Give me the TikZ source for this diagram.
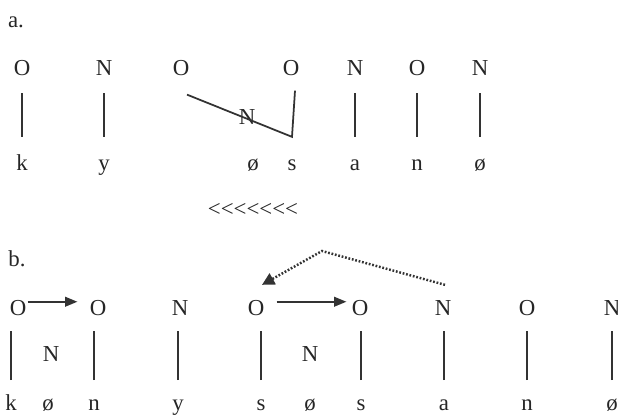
\documentclass[tikz,border=0pt]{standalone}
\usepackage{fontspec}
\setmainfont{Liberation Serif}
\usetikzlibrary{arrows.meta}

\begin{document}
\begin{tikzpicture}[x=0.02cm, y=-0.02cm,
    seg/.style={font=\fontsize{13}{15}\selectfont, text=black!85, inner sep=0pt,
      text height=9pt, text depth=3pt, anchor=base},
    assoc/.style={draw=black!80, line width=1pt},
    stemA/.style={assoc, shorten <=9.8pt, shorten >=7.2pt},
    stemB/.style={assoc, shorten <=7.8pt, shorten >=6.1pt},
    move/.style={assoc, -{Triangle[length=7pt, width=5.5pt]}},
  ]
  \useasboundingbox (0,0) rectangle (618,414);

  % (a) skeleton before the shift
  \node[seg] (la) at (16,27) {a.};
  \node[seg] (a1) at (22,75) {O};
  \node[seg] (a2) at (104,75) {N};
  \node[seg] (a3) at (181,75) {O};
  \node[seg] (a4) at (291,75) {O};
  \node[seg] (a5) at (355,75) {N};
  \node[seg] (a6) at (417,75) {O};
  \node[seg] (a7) at (480,75) {N};
  \node[seg] (x1) at (22,170) {k};
  \node[seg] (x2) at (104,170) {y};
  \node[seg] (x3) at (253,170) {ø};
  \node[seg] (x4) at (292,170) {s};
  \node[seg] (x5) at (355,170) {a};
  \node[seg] (x6) at (417,170) {n};
  \node[seg] (x7) at (480,170) {ø};
  \node[seg] (na) at (247,124) {N};
  \foreach \i in {1,2,5,6,7}
    \draw[stemA] (x\i.north) -- (x\i.north |- a\i.south);
  \draw[assoc] ([shift={(6,14)}]a3.south) -- ([shift={(0,-17)}]x4.north)
    -- ([shift={(4,10)}]a4.south);

  % kern between the signs, or they fuse into guillemets
  \node[seg, anchor=center] (dir) at (253,211)
    {<\kern0pt<\kern0pt<\kern0pt<\kern0pt<\kern0pt<\kern0pt<};

  % (b) skeleton after the shift
  \node[seg] (lb) at (17,266) {b.};
  \node[seg] (b1) at (18,315) {O};
  \node[seg] (b2) at (98,315) {O};
  \node[seg] (b3) at (180,315) {N};
  \node[seg] (b4) at (256,315) {O};
  \node[seg] (b5) at (360,315) {O};
  \node[seg] (b6) at (443,315) {N};
  \node[seg] (b7) at (527,315) {O};
  \node[seg] (b8) at (612,315) {N};
  \node[seg] (y1) at (11,410) {k};
  \node[seg] (y2) at (48,410) {ø};
  \node[seg] (y3) at (94,410) {n};
  \node[seg] (y4) at (178,410) {y};
  \node[seg] (y5) at (261,410) {s};
  \node[seg] (y6) at (310,410) {ø};
  \node[seg] (y7) at (361,410) {s};
  \node[seg] (y8) at (444,410) {a};
  \node[seg] (y9) at (527,410) {n};
  \node[seg] (y10) at (612,410) {ø};
  \node[seg] (nb1) at (51,361) {N};
  \node[seg] (nb2) at (310,361) {N};
  \draw[stemB] (y1.north) -- (y1.north |- b1.south);
  \draw[stemB] (y3.north) -- (y3.north |- b2.south);
  \draw[stemB] (y4.north) -- (y4.north |- b3.south);
  \draw[stemB] (y5.north) -- (y5.north |- b4.south);
  \draw[stemB] (y7.north) -- (y7.north |- b5.south);
  \draw[stemB] (y8.north) -- (y8.north |- b6.south);
  \draw[stemB] (y9.north) -- (y9.north |- b7.south);
  \draw[stemB] (y10.north) -- (y10.north |- b8.south);
  \draw[move] ([shift={(1,-8)}]b1.east) -- ([shift={(-12,-8)}]b2.west);
  \draw[move] ([shift={(12,-8)}]b4.east) -- ([shift={(-5,-8)}]b5.west);
  \coordinate (peak) at (322,251);
  \draw[assoc, densely dotted, line width=1.4pt, -{Triangle[length=7pt, width=7pt]}]
    ([shift={(2,-14)}]b6.north) -- (peak) -- ([shift={(6,-14)}]b4.north);
\end{tikzpicture}
\end{document}
